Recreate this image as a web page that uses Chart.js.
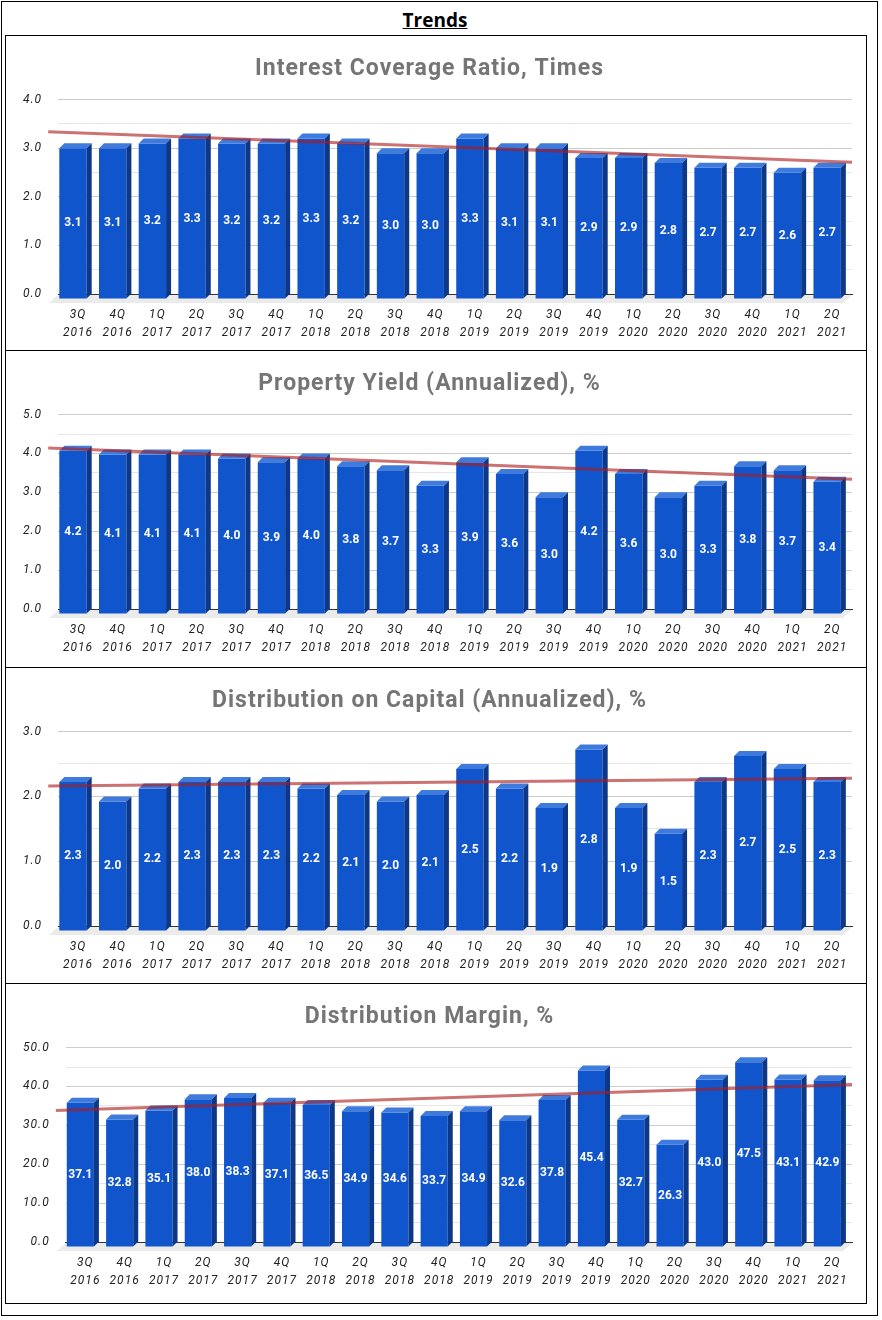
<!DOCTYPE html>
<html>
<head>
<meta charset="utf-8">
<script src="https://cdn.jsdelivr.net/npm/chart.js@4.4.1/dist/chart.umd.min.js"></script>
<style>
  body { margin: 0; background: #fff; }
  #frame { position: absolute; left: 1px; top: 1px; width: 877px; height: 1315px; border: 1px solid #000; box-sizing: border-box; }
  h1 { position: absolute; left: 0; width: 870px; top: 7px; margin: 0; text-align: center; font: 700 19px "Open Sans", sans-serif; text-decoration: underline; color: #000; }
  .panel { position: absolute; left: 5px; width: 862px; border: 1px solid #000; box-sizing: border-box; background: #fff; overflow: hidden; }
  canvas { display: block; }
</style>
</head>
<body>
<div id="frame"></div>
<h1>Trends</h1>
<div class="panel" style="top:35px;height:316px"><canvas id="chart1" width="860" height="318"></canvas></div>
<div class="panel" style="top:350px;height:318px"><canvas id="chart2" width="860" height="318"></canvas></div>
<div class="panel" style="top:667px;height:317px"><canvas id="chart3" width="860" height="318"></canvas></div>
<div class="panel" style="top:983px;height:321px"><canvas id="chart4" width="860" height="318"></canvas></div>
<script>
const quarters = [
  ["3Q", "2016"], ["4Q", "2016"], ["1Q", "2017"], ["2Q", "2017"], ["3Q", "2017"],
  ["4Q", "2017"], ["1Q", "2018"], ["2Q", "2018"], ["3Q", "2018"], ["4Q", "2018"],
  ["1Q", "2019"], ["2Q", "2019"], ["3Q", "2019"], ["4Q", "2019"], ["1Q", "2020"],
  ["2Q", "2020"], ["3Q", "2020"], ["4Q", "2020"], ["1Q", "2021"], ["2Q", "2021"],
];
const coverageRatio = [3.1, 3.1, 3.2, 3.3, 3.2, 3.2, 3.3, 3.2, 3.0, 3.0, 3.3, 3.1, 3.1, 2.9, 2.9, 2.8, 2.7, 2.7, 2.6, 2.7];
const propertyYield = [4.2, 4.1, 4.1, 4.1, 4.0, 3.9, 4.0, 3.8, 3.7, 3.3, 3.9, 3.6, 3.0, 4.2, 3.6, 3.0, 3.3, 3.8, 3.7, 3.4];
const distOnCapital = [2.3, 2.0, 2.2, 2.3, 2.3, 2.3, 2.2, 2.1, 2.0, 2.1, 2.5, 2.2, 1.9, 2.8, 1.9, 1.5, 2.3, 2.7, 2.5, 2.3];
const distMargin = [37.1, 32.8, 35.1, 38.0, 38.3, 37.1, 36.5, 34.9, 34.6, 33.7, 34.9, 32.6, 37.8, 45.4, 32.7, 26.3, 43.0, 47.5, 43.1, 42.9];

const depth = 5;       // 3d offset of the bars
const floorDepth = 9;  // grey floor under the axis

// least squares line through the values
function trendOf(values) {
  const n = values.length;
  const mx = (n - 1) / 2;
  const my = values.reduce((s, v) => s + v, 0) / n;
  let sxy = 0, sxx = 0;
  values.forEach((v, i) => { sxy += (i - mx) * (v - my); sxx += (i - mx) * (i - mx); });
  const b = sxy / sxx;
  return i => my + b * (i - mx);
}

const bars3d = {
  id: "bars3d",
  // google charts style spacing on axis text and title (canvas resize wipes it, so set it each time)
  beforeLayout(chart) { chart.ctx.letterSpacing = "1px"; },
  beforeDraw(chart) { chart.ctx.letterSpacing = "1px"; },
  beforeDatasetsDraw(chart) {
    const { ctx, chartArea: a } = chart;
    ctx.save();
    ctx.fillStyle = "#ebebeb";
    ctx.beginPath();
    ctx.moveTo(a.left, a.bottom + 1);
    ctx.lineTo(a.right, a.bottom + 1);
    ctx.lineTo(a.right - floorDepth, a.bottom + floorDepth);
    ctx.lineTo(a.left - floorDepth, a.bottom + floorDepth);
    ctx.closePath();
    ctx.fill();
    ctx.restore();
  },
  beforeDatasetDraw(chart) {
    chart.ctx.save();
    chart.ctx.translate(-depth, depth);
  },
  afterDatasetDraw(chart, args) {
    const ctx = chart.ctx;
    ctx.restore();
    ctx.save();
    args.meta.data.forEach(bar => {
      const { x, y, base, width } = bar.getProps(["x", "y", "base", "width"], true);
      const l = x - width / 2, r = x + width / 2;
      ctx.fillStyle = "#3f7bdc";
      ctx.beginPath();
      ctx.moveTo(l - depth, y + depth);
      ctx.lineTo(l, y);
      ctx.lineTo(r, y);
      ctx.lineTo(r - depth, y + depth);
      ctx.closePath();
      ctx.fill();
      ctx.fillStyle = "#0c3887";
      ctx.beginPath();
      ctx.moveTo(r - depth, y + depth);
      ctx.lineTo(r, y);
      ctx.lineTo(r, base);
      ctx.lineTo(r - depth, base + depth);
      ctx.closePath();
      ctx.fill();
    });
    ctx.restore();
  },
  afterDatasetsDraw(chart) {
    const { ctx, scales } = chart;
    const values = chart.data.datasets[0].data;
    const trend = trendOf(values);
    const x0 = -0.75, x1 = values.length - 0.5;
    ctx.save();
    ctx.strokeStyle = "rgba(172, 28, 28, 0.62)";
    ctx.lineWidth = 3;
    ctx.beginPath();
    ctx.moveTo(scales.x.getPixelForValue(x0), scales.y.getPixelForValue(trend(x0)));
    ctx.lineTo(scales.x.getPixelForValue(x1), scales.y.getPixelForValue(trend(x1)));
    ctx.stroke();

    ctx.letterSpacing = "0px";
    ctx.fillStyle = "#fff";
    ctx.font = "bold 12px Roboto";
    ctx.textAlign = "center";
    ctx.textBaseline = "middle";
    chart.getDatasetMeta(0).data.forEach((bar, i) => {
      const { x, y, base } = bar.getProps(["x", "y", "base"], true);
      ctx.fillText(values[i].toFixed(1), x - depth, (y + base) / 2 + depth);
    });
    ctx.restore();
  },
};

function makeChart(id, title, values, max, step) {
  return new Chart(document.getElementById(id).getContext("2d"), {
    type: "bar",
    data: {
      labels: quarters,
      datasets: [
        {
          data: values,
          backgroundColor: "#1155cc",
          barPercentage: 0.69,
          categoryPercentage: 1,
          clip: false,
        },
      ],
    },
    plugins: [bars3d],
    options: {
      responsive: false,
      animation: false,
      layout: { padding: { left: 1, right: 14, top: 19, bottom: 0 } },
      plugins: {
        legend: { display: false },
        tooltip: { enabled: false },
        title: {
          display: true,
          text: title,
          color: "#757575",
          font: { family: "Roboto", size: 23, weight: "bold" },
          padding: { top: 0, bottom: 17 },
        },
      },
      scales: {
        x: {
          grid: { display: false, drawTicks: false },
          border: { display: true, color: "#333" },
          ticks: {
            color: "#222",
            padding: 12,
            maxRotation: 0,
            autoSkip: false,
            font: { family: "Roboto", size: 12, style: "italic", lineHeight: 1.5 },
          },
        },
        y: {
          min: 0,
          max: max,
          border: { display: false },
          grid: {
            drawTicks: false,
            color: c => (c.tick.value === 0 ? "#333" : (Math.abs(c.tick.value / step - Math.round(c.tick.value / step)) < 1e-6 ? "#cccccc" : "#e6e6e6")),
          },
          ticks: {
            stepSize: step / 2,
            padding: 16,
            color: "#222",
            font: { family: "Roboto", size: 12, style: "italic" },
            callback: v => (Math.abs(v / step - Math.round(v / step)) < 1e-6 ? v.toFixed(1) : ""),
          },
        },
      },
    },
  });
}

const chart1 = makeChart("chart1", "Interest Coverage Ratio, Times", coverageRatio, 4, 1);
const chart2 = makeChart("chart2", "Property Yield (Annualized), %", propertyYield, 5, 1);
const chart3 = makeChart("chart3", "Distribution on Capital (Annualized), %", distOnCapital, 3, 1);
const chart4 = makeChart("chart4", "Distribution Margin, %", distMargin, 50, 10);
</script>
</body>
</html>
